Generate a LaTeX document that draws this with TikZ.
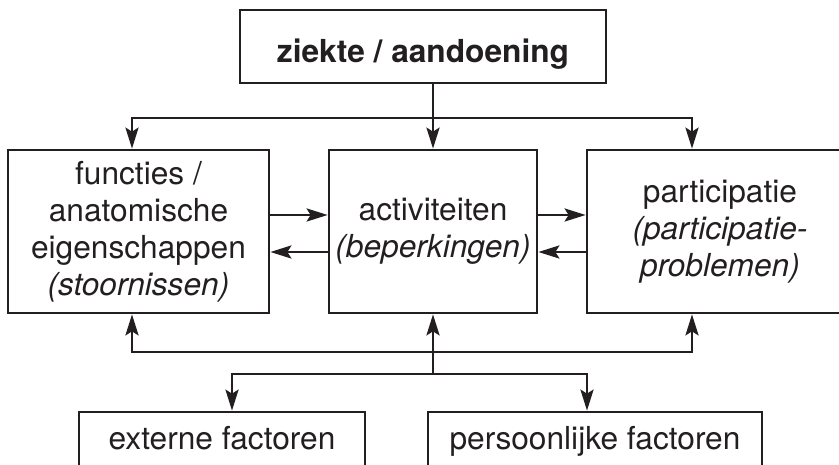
\documentclass[tikz,border=0pt]{standalone}
\usepackage{fontspec}
\setmainfont{TeX Gyre Heros}
\usepackage{xcolor}
\usepackage{tikz}
\usetikzlibrary{arrows.meta, positioning, calc}

\definecolor{ink}{HTML}{231F20}

\begin{document}
\begin{tikzpicture}[
    x=0.5bp, y=-0.5bp,
    box/.style={rectangle, draw=ink, line width=1.35bp, text=ink, align=center,
                font=\fontsize{15.9}{18.5}\selectfont, inner sep=0pt},
    arrow/.style={-{Stealth[length=10.5bp, width=6.5bp, inset=2bp]}, line width=1.35bp, draw=ink},
]
\clip (0,0) rectangle (839,465);

% Disease
\node[box, minimum width=183bp, minimum height=36.5bp, text height=16.5bp, text depth=0pt]
    (zi) at (423,46.5) {\textbf{ziekte / aandoening}};

% Middle row
\node[box, minimum width=130.5bp, minimum height=81.5bp] (fun) at (138.5,231.5) {
    functies /\\
    anatomische\\
    eigenschappen\\
    \textit{(stoornissen)}
};
\node[box, minimum width=104bp, minimum height=81.5bp] (act) at (433,231.5) {
    activiteiten\\
    \textit{(beperkingen)}
};
\node[box, minimum width=133bp, minimum height=81.5bp] (par) at (720,231.5) {
    participatie\\
    \textit{(participatie-}\\
    \textit{problemen)}
};

% Context factors
\node[box, minimum width=143bp, minimum height=30bp, text height=8bp, text depth=0pt]
    (ext) at (222,442) {externe factoren};
\node[box, minimum width=167bp, minimum height=30bp, text height=8bp, text depth=0pt]
    (pers) at (595,442) {persoonlijke factoren};

% Junction points
\coordinate (topL) at (132,118);
\coordinate (topR) at (692,118);
\coordinate (hi) at (0,215);
\coordinate (lo) at (0,252);
\coordinate (botL) at (132,352);
\coordinate (botR) at (692,352);
\coordinate (dL) at (232,374);
\coordinate (dR) at (587,374);

% Disease to middle row
\draw[arrow] (act.north |- zi.south) -- (act.north);
\draw[arrow] (act.north |- topL) -| (fun.north -| topL);
\draw[arrow] (act.north |- topR) -| (par.north -| topR);

% Between boxes
\draw[arrow] (fun.east |- hi) -- (act.west |- hi);
\draw[arrow] (act.west |- lo) -- (fun.east |- lo);
\draw[arrow] (act.east |- hi) -- (par.west |- hi);
\draw[arrow] (par.west |- lo) -- (act.east |- lo);

% Context factors to middle row
\draw[arrow] (act.south |- botL) -| (fun.south -| botL);
\draw[arrow] (act.south |- botR) -| (par.south -| botR);
\draw[arrow] (act.south |- dL) -- (act.south);
\draw[arrow] (act.south |- dL) -| (ext.north -| dL);
\draw[arrow] (act.south |- dR) -| (pers.north -| dR);

\end{tikzpicture}
\end{document}
